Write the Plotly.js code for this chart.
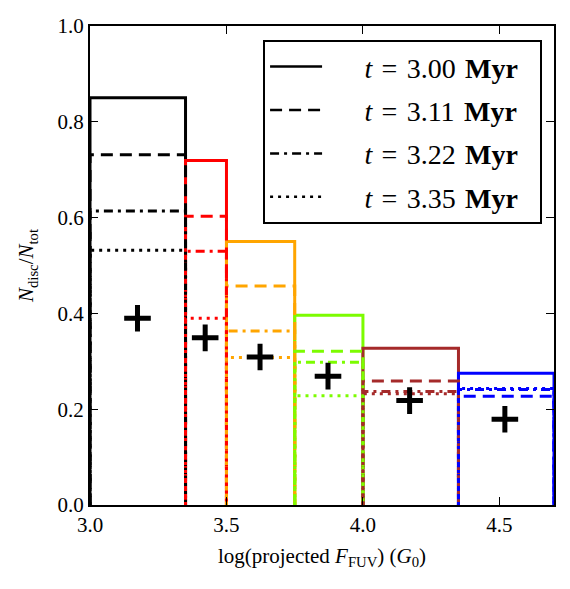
<!DOCTYPE html>
<html>
<head>
<meta charset="utf-8">
<script src="https://cdn.plot.ly/plotly-3.0.1.min.js"></script>
<style>
  html, body { margin: 0; padding: 0; background: #fff; }
  #chart { width: 570px; height: 589px; }
</style>
</head>
<body>
<div id="chart"></div>
<script>
// FUV flux bins (log G0) and the colour of each bin
const binEdges = [3.0, 3.35, 3.5, 3.75, 4.0, 4.35, 4.7];
const binColors = ['#000000', '#ff0000', '#ffa500', '#7cfc00', '#a52a2a', '#0000ff'];

// Disc fraction per bin at each snapshot time
const timeLabels = ['3.00', '3.11', '3.22', '3.35'];
const frac_t300 = [0.850, 0.719, 0.550, 0.396, 0.327, 0.275];
const frac_t311 = [0.731, 0.603, 0.457, 0.321, 0.259, 0.227];
const frac_t322 = [0.614, 0.530, 0.363, 0.298, 0.237, 0.241];
const frac_t335 = [0.532, 0.390, 0.308, 0.228, 0.232, 0.243];

// Observed points
const obsX = [3.174, 3.422, 3.623, 3.872, 4.171, 4.520];
const obsY = [0.390, 0.349, 0.309, 0.269, 0.218, 0.179];

const fracSeries = [frac_t300, frac_t311, frac_t322, frac_t335];
const dashStyles = ['solid', '12px,7px', '9px,5px,3px,5px', '3px,5px'];

const traces = [];
// one closed step outline per bin, snapshot by snapshot
for (let s = 0; s < fracSeries.length; s++) {
  for (let b = 0; b < binColors.length; b++) {
    const x0 = binEdges[b], x1 = binEdges[b + 1];
    const v = fracSeries[s][b];
    traces.push({
      type: 'scatter', mode: 'lines',
      x: [x0, x0, x1, x1], y: [0, v, v, 0],
      line: { color: binColors[b], width: 3, dash: dashStyles[s] },
      showlegend: false, hoverinfo: 'skip'
    });
  }
}

// legend entries (black line styles)
const sp = '\u2004';
const lead = '\u2003\u2004';
for (let s = 0; s < timeLabels.length; s++) {
  traces.push({
    type: 'scatter', mode: 'lines',
    x: [null], y: [null],
    name: lead + '<i>t</i>' + sp + '=' + sp + timeLabels[s] + sp + '<b>Myr</b>' + '\u2004\u2005',
    legendgroup: 'g' + s,
    line: { color: '#000', width: 2.5, dash: dashStyles[s] },
    showlegend: true
  });
}

traces.push({
  type: 'scatter', mode: 'markers',
  x: obsX, y: obsY,
  marker: { symbol: 'cross-thin', size: 19, color: '#000', line: { color: '#000', width: 5 } },
  showlegend: false, cliponaxis: false
});

const serif = 'Liberation Serif, DejaVu Serif, serif';

const layout = {
  width: 570, height: 589,
  margin: { l: 90, r: 16, t: 26, b: 84 },
  paper_bgcolor: '#fff', plot_bgcolor: '#fff',
  font: { family: serif, color: '#000', size: 20 },
  showlegend: true,
  legend: {
    x: 0.373, y: 0.971, xanchor: 'left', yanchor: 'top',
    bordercolor: '#000', borderwidth: 2, bgcolor: '#fff',
    font: { family: serif, size: 28, color: '#000' },
    tracegroupgap: 4, itemwidth: 52
  },
  xaxis: {
    range: [3.0, 4.7], tickvals: [3.0, 3.5, 4.0, 4.5], tickformat: '.1f',
    ticks: 'inside', ticklen: 8, tickwidth: 1, tickcolor: '#000',
    showline: true, linecolor: '#000', linewidth: 2, mirror: 'ticks',
    showgrid: false, zeroline: false,
    tickfont: { family: serif, size: 21 },
    title: { text: 'log(projected <i>F</i><sub>FUV</sub>) (<i>G</i><sub>0</sub>)', font: { family: serif, size: 21 }, standoff: 12 }
  },
  yaxis: {
    range: [0, 1.0], dtick: 0.2, tickformat: '.1f',
    ticks: 'inside', ticklen: 8, tickwidth: 1, tickcolor: '#000',
    showline: true, linecolor: '#000', linewidth: 2, mirror: 'ticks',
    showgrid: false, zeroline: false,
    tickfont: { family: serif, size: 21 },
    title: { text: '<i>N</i><sub>disc</sub>/<i>N</i><sub>tot</sub>', font: { family: serif, size: 21 }, standoff: 18 }
  }
};

Plotly.newPlot('chart', traces, layout, { displayModeBar: false, staticPlot: true });
</script>
</body>
</html>
